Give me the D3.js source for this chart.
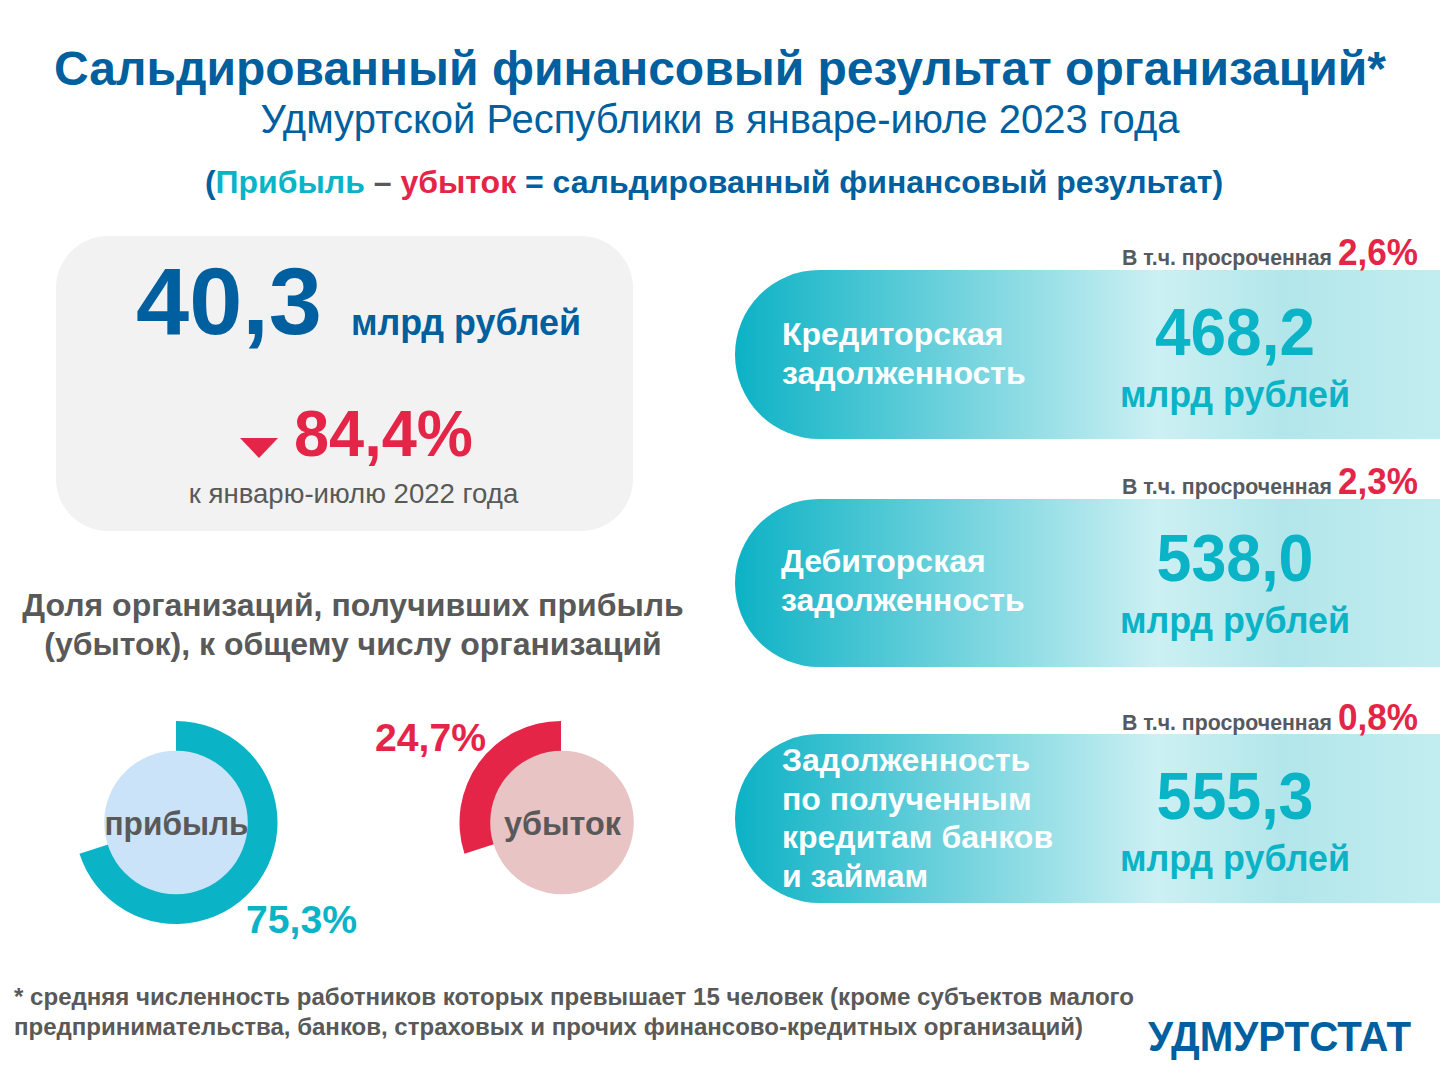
<!DOCTYPE html>
<html lang="ru">
<head>
  <title>Сальдированный финансовый результат</title>
  <meta charset="utf-8">
  <script src="https://d3js.org/d3.v7.min.js" charset="utf-8"></script>
  <style>
    html, body { margin: 0; padding: 0; background: #fff; }
    svg { display: block; }
    text { font-family: "Liberation Sans", Arial, sans-serif; }
  </style>
</head>
<body>
  <script>
    // headline figures
    var mainValue = ["40,3"];
    var mainChange = ["84,4%"];

    // debts block
    var debtNames = [
      ["Кредиторская", "задолженность"],
      ["Дебиторская", "задолженность"],
      ["Задолженность", "по полученным", "кредитам банков", "и займам"]
    ];
    var debtValues = ["468,2", "538,0", "555,3"];
    var overdueShares = ["2,6%", "2,3%", "0,8%"];

    // rings: printed labels, and the share each ring actually sweeps in the picture
    // (the source draws about 70/30 although its labels say 75,3/24,7)
    var ringNames = ["прибыль", "убыток"];
    var ringLabels = ["75,3%", "24,7%"];
    var ringSweep = [70, 30];

    var blue = "#005f9e", teal = "#0bb3c6", red = "#e42548", grey = "#595959";
    var w = 1440, h = 1080;

    var svg = d3.select("body").append("svg").attr("width", w).attr("height", h);

    // fit = width the text is squeezed to, the source lettering is a bit narrower than ours
    function label(x, y, str, size, color, bold, anchor, fit) {
      var t = svg.append("text")
        .attr("x", x).attr("y", y)
        .attr("font-size", size)
        .attr("fill", color)
        .attr("font-weight", bold ? 700 : 400)
        .attr("text-anchor", anchor || "start")
        .text(str);
      if (fit) t.attr("textLength", fit).attr("lengthAdjust", "spacingAndGlyphs");
      return t;
    }

    // header
    label(720, 85, "Сальдированный финансовый результат организаций*", 48, blue, true, "middle");
    label(720, 133, "Удмуртской Республики в январе-июле 2023 года", 40, blue, false, "middle");

    var formula = svg.append("text").attr("x", 714).attr("y", 193).attr("text-anchor", "middle")
      .attr("font-size", 32).attr("font-weight", 700).attr("fill", blue);
    formula.append("tspan").text("(");
    formula.append("tspan").attr("fill", teal).text("Прибыль");
    formula.append("tspan").attr("fill", grey).text(" – ");
    formula.append("tspan").attr("fill", red).text("убыток");
    formula.append("tspan").text(" = сальдированный финансовый результат)");

    // grey card
    svg.append("rect").attr("x", 56).attr("y", 236).attr("width", 577).attr("height", 295)
      .attr("rx", 52).attr("fill", "#f2f2f2");
    label(136, 334, mainValue[0], 94, blue, true, "start", 186);
    label(351, 335, "млрд рублей", 36, blue, true, "start", 230);
    svg.append("path")
      .attr("d", d3.line()([[240, 438], [278, 438], [259, 458]]))
      .attr("fill", red);
    label(294, 456, mainChange[0], 65, red, true, "start", 179);
    label(353.5, 503, "к январю-июлю 2022 года", 27.6, grey, false, "middle");

    // rings
    label(353, 616, "Доля организаций, получивших прибыль", 32, grey, true, "middle");
    label(353, 655, "(убыток), к общему числу организаций", 32, grey, true, "middle");

    var ringX = d3.scalePoint().domain(ringNames).range([176, 561]);
    var ringColor = d3.scaleOrdinal().domain(ringNames).range([teal, red]);
    var innerColor = d3.scaleOrdinal().domain(ringNames).range(["#cbe3f8", "#e9c4c5"]);
    var sweep = d3.scaleLinear().domain([0, 100]).range([0, 2 * Math.PI]);
    var ringY = 822.5;
    var arc = d3.arc().innerRadius(60).outerRadius(101.5);

    ringNames.forEach(function(name, i) {
      var g = svg.append("g").attr("transform", "translate(" + ringX(name) + "," + ringY + ")");
      // first ring runs clockwise, second one counter-clockwise, both from the top
      var dir = i === 0 ? 1 : -1;
      g.append("path")
        .attr("d", arc({ startAngle: 0, endAngle: dir * sweep(ringSweep[i]) }))
        .attr("fill", ringColor(name));
      g.append("circle").attr("r", 71.8).attr("fill", innerColor(name))
        .attr("cx", i === 0 ? 0 : 1);
      label(ringX(name) + (i === 0 ? 0.5 : 1.5), ringY + 12, name, 32.5, grey, true, "middle", i === 0 ? 144 : 117);
    });
    label(246, 933, ringLabels[0], 39, teal, true, "start", 111);
    label(375, 751, ringLabels[1], 39, red, true, "start", 111);

    // debt bars
    var barTop = d3.scaleOrdinal().domain(debtValues).range([270, 499, 734]);
    var barHeight = d3.scaleOrdinal().domain(debtValues).range([169, 168, 169]);
    var barShift = d3.scaleOrdinal().domain(debtValues).range([0, -3, 0]);
    var barX = 735;
    var defs = svg.append("defs");
    var grad = defs.append("linearGradient").attr("id", "barFill")
      .attr("gradientUnits", "userSpaceOnUse")
      .attr("x1", barX).attr("x2", w).attr("y1", 0).attr("y2", 0);
    grad.append("stop").attr("offset", 0).attr("stop-color", "#0cb2c5");
    grad.append("stop").attr("offset", 0.6).attr("stop-color", "#ccf0f3");
    grad.append("stop").attr("offset", 0.78).attr("stop-color", "#b2e6ea");
    grad.append("stop").attr("offset", 1).attr("stop-color", "#c2edf0");

    debtValues.forEach(function(v, i) {
      var y0 = barTop(v), barH = barHeight(v), r = barH / 2, s = barShift(v);
      var p = d3.path();
      p.moveTo(w, y0);
      p.lineTo(barX + r, y0);
      p.arc(barX + r, y0 + r, r, -Math.PI / 2, Math.PI / 2, true);
      p.lineTo(w, y0 + barH);
      p.closePath();
      svg.append("path").attr("d", p.toString()).attr("fill", "url(#barFill)");

      var capY = y0 - 5 + (i === 2 ? 1 : 0);
      label(1332, capY, "В т.ч. просроченная", 21.3, "#555a60", true, "end");
      label(1338, capY, overdueShares[i], 36, red, true, "start", 80);

      var lines = debtNames[i];
      var firstY = y0 + 84.5 + 9.5 - (lines.length - 1) * 19 + s / 1.5;
      lines.forEach(function(t, j) {
        label(i === 1 ? 781 : 782, firstY + j * 38.5, t, 32, "#fff", true);
      });
      label(1235, y0 + 85 + s, v, 66, teal, true, "middle", i === 0 ? 160 : 157);
      label(1235, y0 + 137 + s, "млрд рублей", 36, teal, true, "middle", 230);
    });

    // footnote
    label(14, 1005, "* средняя численность работников которых превышает 15 человек (кроме субъектов малого", 24, grey, true, "start", 1120);
    label(14, 1035, "предпринимательства, банков, страховых и прочих финансово-кредитных организаций)", 24, grey, true, "start", 1069);
    label(1148, 1051, "УДМУРТСТАТ", 43, blue, true, "start", 263);
  </script>
</body>
</html>
